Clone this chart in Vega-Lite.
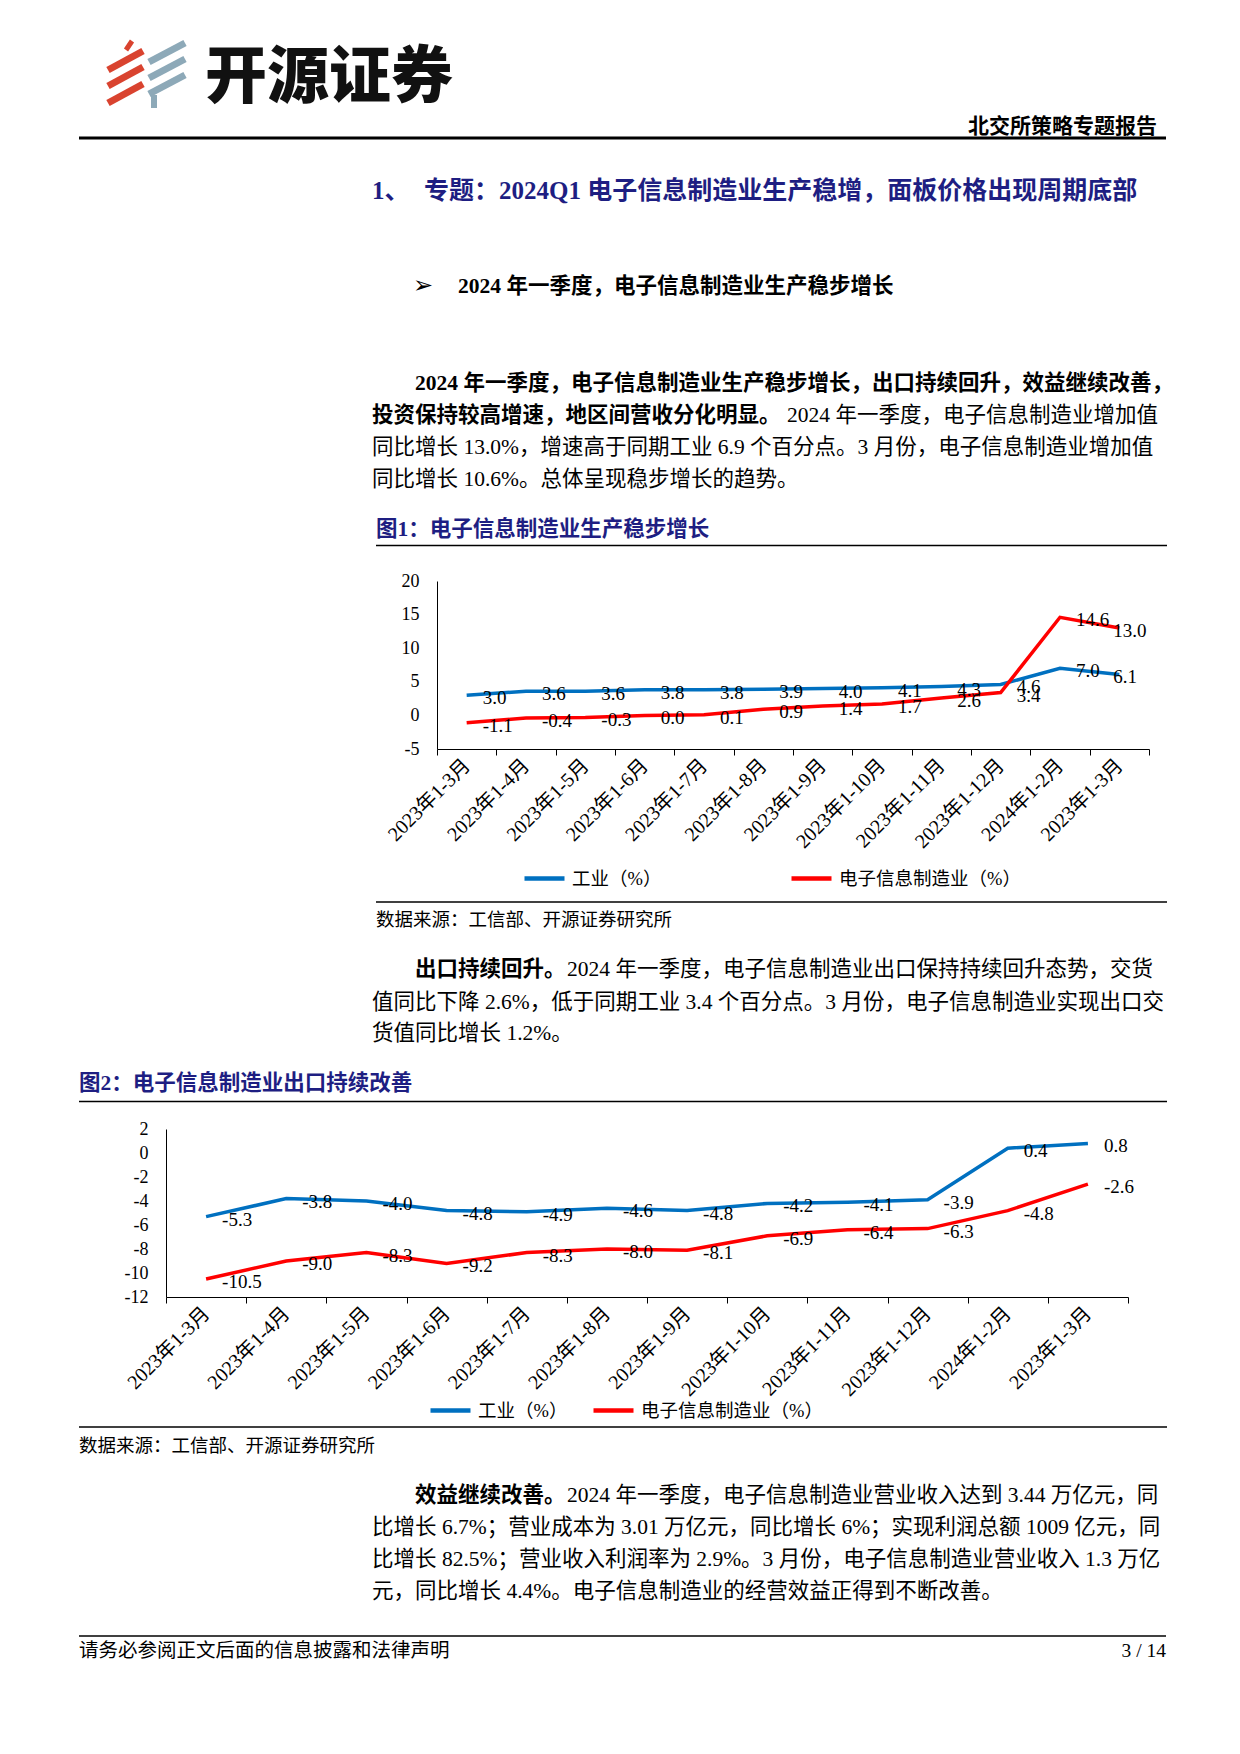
{
  "$schema": "https://vega.github.io/schema/vega-lite/v6.json",
  "padding": {"left": -7, "top": 0, "right": 0, "bottom": 0},
  "background": "white",
  "bounds": "flush",
  "spacing": 0,
  "config": {
    "view": {"stroke": null},
    "locale": {"number": {"decimal": ".", "thousands": ",", "grouping": [3], "currency": ["", ""], "minus": "-"}},
    "axis": {"labelColor": "#000000", "domainColor": "#000000", "tickColor": "#000000", "grid": false, "title": null, "labelFont": "Liberation Serif, Noto Sans CJK SC"}
  },
  "resolve": {"scale": {"color": "independent", "x": "independent", "y": "independent"}, "legend": {"color": "independent"}},
  "datasets": {
    "fig1": [
      {"月份": "2023年1-3月", "系列": "工业（%）", "值": 3.0},
      {"月份": "2023年1-4月", "系列": "工业（%）", "值": 3.6},
      {"月份": "2023年1-5月", "系列": "工业（%）", "值": 3.6},
      {"月份": "2023年1-6月", "系列": "工业（%）", "值": 3.8},
      {"月份": "2023年1-7月", "系列": "工业（%）", "值": 3.8},
      {"月份": "2023年1-8月", "系列": "工业（%）", "值": 3.9},
      {"月份": "2023年1-9月", "系列": "工业（%）", "值": 4.0},
      {"月份": "2023年1-10月", "系列": "工业（%）", "值": 4.1},
      {"月份": "2023年1-11月", "系列": "工业（%）", "值": 4.3},
      {"月份": "2023年1-12月", "系列": "工业（%）", "值": 4.6},
      {"月份": "2024年1-2月", "系列": "工业（%）", "值": 7.0},
      {"月份": "2023年1-3月\u200b", "系列": "工业（%）", "值": 6.1},
      {"月份": "2023年1-3月", "系列": "电子信息制造业（%）", "值": -1.1},
      {"月份": "2023年1-4月", "系列": "电子信息制造业（%）", "值": -0.4},
      {"月份": "2023年1-5月", "系列": "电子信息制造业（%）", "值": -0.3},
      {"月份": "2023年1-6月", "系列": "电子信息制造业（%）", "值": 0.0},
      {"月份": "2023年1-7月", "系列": "电子信息制造业（%）", "值": 0.1},
      {"月份": "2023年1-8月", "系列": "电子信息制造业（%）", "值": 0.9},
      {"月份": "2023年1-9月", "系列": "电子信息制造业（%）", "值": 1.4},
      {"月份": "2023年1-10月", "系列": "电子信息制造业（%）", "值": 1.7},
      {"月份": "2023年1-11月", "系列": "电子信息制造业（%）", "值": 2.6},
      {"月份": "2023年1-12月", "系列": "电子信息制造业（%）", "值": 3.4},
      {"月份": "2024年1-2月", "系列": "电子信息制造业（%）", "值": 14.6},
      {"月份": "2023年1-3月\u200b", "系列": "电子信息制造业（%）", "值": 13.0}
    ],
    "fig2": [
      {"月份": "2023年1-3月", "系列": "工业（%）", "值": -5.3},
      {"月份": "2023年1-4月", "系列": "工业（%）", "值": -3.8},
      {"月份": "2023年1-5月", "系列": "工业（%）", "值": -4.0},
      {"月份": "2023年1-6月", "系列": "工业（%）", "值": -4.8},
      {"月份": "2023年1-7月", "系列": "工业（%）", "值": -4.9},
      {"月份": "2023年1-8月", "系列": "工业（%）", "值": -4.6},
      {"月份": "2023年1-9月", "系列": "工业（%）", "值": -4.8},
      {"月份": "2023年1-10月", "系列": "工业（%）", "值": -4.2},
      {"月份": "2023年1-11月", "系列": "工业（%）", "值": -4.1},
      {"月份": "2023年1-12月", "系列": "工业（%）", "值": -3.9},
      {"月份": "2024年1-2月", "系列": "工业（%）", "值": 0.4},
      {"月份": "2023年1-3月\u200b", "系列": "工业（%）", "值": 0.8},
      {"月份": "2023年1-3月", "系列": "电子信息制造业（%）", "值": -10.5},
      {"月份": "2023年1-4月", "系列": "电子信息制造业（%）", "值": -9.0},
      {"月份": "2023年1-5月", "系列": "电子信息制造业（%）", "值": -8.3},
      {"月份": "2023年1-6月", "系列": "电子信息制造业（%）", "值": -9.2},
      {"月份": "2023年1-7月", "系列": "电子信息制造业（%）", "值": -8.3},
      {"月份": "2023年1-8月", "系列": "电子信息制造业（%）", "值": -8.0},
      {"月份": "2023年1-9月", "系列": "电子信息制造业（%）", "值": -8.1},
      {"月份": "2023年1-10月", "系列": "电子信息制造业（%）", "值": -6.9},
      {"月份": "2023年1-11月", "系列": "电子信息制造业（%）", "值": -6.4},
      {"月份": "2023年1-12月", "系列": "电子信息制造业（%）", "值": -6.3},
      {"月份": "2024年1-2月", "系列": "电子信息制造业（%）", "值": -4.8},
      {"月份": "2023年1-3月\u200b", "系列": "电子信息制造业（%）", "值": -2.6}
    ]
  },
  "vconcat": [
    {
      "width": 1240,
      "height": 581,
      "data": {"values": [{}]},
      "layer": [
        {"mark": {"type": "rule", "color": "#D9432F", "strokeWidth": 7}, "encoding": {"x": {"value": 107}, "y": {"value": 70}, "x2": {"value": 142}, "y2": {"value": 51}}},
        {"mark": {"type": "rule", "color": "#D9432F", "strokeWidth": 7}, "encoding": {"x": {"value": 107}, "y": {"value": 86}, "x2": {"value": 142}, "y2": {"value": 67}}},
        {"mark": {"type": "rule", "color": "#D9432F", "strokeWidth": 7}, "encoding": {"x": {"value": 107}, "y": {"value": 103}, "x2": {"value": 142}, "y2": {"value": 84}}},
        {"mark": {"type": "rule", "color": "#D9432F", "strokeWidth": 5}, "encoding": {"x": {"value": 125}, "y": {"value": 50}, "x2": {"value": 131}, "y2": {"value": 41}}},
        {"mark": {"type": "rule", "color": "#8DA9B8", "strokeWidth": 7}, "encoding": {"x": {"value": 148}, "y": {"value": 62}, "x2": {"value": 184}, "y2": {"value": 43}}},
        {"mark": {"type": "rule", "color": "#8DA9B8", "strokeWidth": 7}, "encoding": {"x": {"value": 148}, "y": {"value": 78}, "x2": {"value": 184}, "y2": {"value": 59}}},
        {"mark": {"type": "rule", "color": "#8DA9B8", "strokeWidth": 7}, "encoding": {"x": {"value": 148}, "y": {"value": 94}, "x2": {"value": 184}, "y2": {"value": 75}}},
        {"mark": {"type": "rule", "color": "#8DA9B8", "strokeWidth": 6}, "encoding": {"x": {"value": 153}, "y": {"value": 95}, "x2": {"value": 153}, "y2": {"value": 108}}},
        {"mark": {"type": "text", "text": "开源证券", "font": "Noto Sans CJK SC", "fontSize": 62, "fontWeight": 900, "color": "#111111", "align": "left", "baseline": "alphabetic"}, "encoding": {"x": {"value": 204}, "y": {"value": 98}}},
        {"mark": {"type": "text", "text": "北交所策略专题报告", "font": "Noto Sans CJK SC", "fontSize": 21, "fontWeight": "bold", "color": "#000000", "align": "right", "baseline": "alphabetic"}, "encoding": {"x": {"value": 1156}, "y": {"value": 133}}},
        {"mark": {"type": "rule", "color": "#000000", "strokeWidth": 3}, "encoding": {"x": {"value": 78}, "x2": {"value": 1165}, "y": {"value": 138}, "y2": {"value": 138}}},
        {"mark": {"type": "text", "text": "1、", "font": "Liberation Serif, Noto Sans CJK SC", "fontSize": 25, "fontWeight": "bold", "color": "#1E1E82", "align": "left", "baseline": "alphabetic"}, "encoding": {"x": {"value": 371}, "y": {"value": 199}}},
        {"mark": {"type": "text", "text": "专题：2024Q1 电子信息制造业生产稳增，面板价格出现周期底部", "font": "Liberation Serif, Noto Sans CJK SC", "fontSize": 25, "fontWeight": "bold", "color": "#1E1E82", "align": "left", "baseline": "alphabetic"}, "encoding": {"x": {"value": 423}, "y": {"value": 199}}},
        {"mark": {"type": "text", "text": "➢", "font": "DejaVu Sans", "fontSize": 24, "color": "#000000", "align": "left", "baseline": "alphabetic"}, "encoding": {"x": {"value": 412}, "y": {"value": 293}}},
        {"mark": {"type": "text", "text": "2024 年一季度，电子信息制造业生产稳步增长", "font": "Liberation Serif, Noto Sans CJK SC", "fontSize": 21.5, "fontWeight": "bold", "color": "#000000", "align": "left", "baseline": "alphabetic"}, "encoding": {"x": {"value": 457}, "y": {"value": 293}}},
        {"mark": {"type": "text", "text": "2024 年一季度，电子信息制造业生产稳步增长，出口持续回升，效益继续改善，", "font": "Liberation Serif, Noto Sans CJK SC", "fontSize": 21.5, "fontWeight": "bold", "color": "#000000", "align": "left", "baseline": "alphabetic"}, "encoding": {"x": {"value": 414}, "y": {"value": 390}}},
        {"mark": {"type": "text", "text": "投资保持较高增速，地区间营收分化明显。", "font": "Liberation Serif, Noto Sans CJK SC", "fontSize": 21.5, "fontWeight": "bold", "color": "#000000", "align": "left", "baseline": "alphabetic"}, "encoding": {"x": {"value": 371}, "y": {"value": 422}}},
        {"mark": {"type": "text", "text": "2024 年一季度，电子信息制造业增加值", "font": "Liberation Serif, Noto Sans CJK SC", "fontSize": 21.5, "color": "#000000", "align": "left", "baseline": "alphabetic"}, "encoding": {"x": {"value": 786}, "y": {"value": 422}}},
        {"mark": {"type": "text", "text": "同比增长 13.0%，增速高于同期工业 6.9 个百分点。3 月份，电子信息制造业增加值", "font": "Liberation Serif, Noto Sans CJK SC", "fontSize": 21.5, "color": "#000000", "align": "left", "baseline": "alphabetic"}, "encoding": {"x": {"value": 371}, "y": {"value": 454}}},
        {"mark": {"type": "text", "text": "同比增长 10.6%。总体呈现稳步增长的趋势。", "font": "Liberation Serif, Noto Sans CJK SC", "fontSize": 21.5, "color": "#000000", "align": "left", "baseline": "alphabetic"}, "encoding": {"x": {"value": 371}, "y": {"value": 486}}},
        {"mark": {"type": "text", "text": "图1：电子信息制造业生产稳步增长", "font": "Liberation Serif, Noto Sans CJK SC", "fontSize": 21.5, "fontWeight": "bold", "color": "#1E1E82", "align": "left", "baseline": "alphabetic"}, "encoding": {"x": {"value": 375}, "y": {"value": 536}}},
        {"mark": {"type": "rule", "color": "#000000", "strokeWidth": 1.5}, "encoding": {"x": {"value": 375}, "x2": {"value": 1166}, "y": {"value": 545.5}, "y2": {"value": 545.5}}}
      ]
    },
    {
      "width": 1240,
      "height": 168,
      "data": {"name": "fig1"},
      "encoding": {
        "x": {
          "field": "月份", "type": "ordinal", "sort": null,
          "scale": {"type": "band", "paddingInner": 0, "paddingOuter": 0, "range": [436, 1148]},
          "axis": {"labelAngle": -45, "labelAlign": "right", "labelBaseline": "middle", "labelFontSize": 20, "labelPadding": 7, "tickSize": 6, "tickBand": "extent", "labelBound": false, "labelOverlap": false, "domainWidth": 1}
        },
        "y": {
          "field": "值", "type": "quantitative",
          "scale": {"domain": [-5, 20], "nice": false, "zero": false},
          "axis": {"values": [-5, 0, 5, 10, 15, 20], "tickSize": 0, "labelPadding": 18, "labelFontSize": 18, "domainWidth": 1, "offset": -436}
        },
        "color": {
          "field": "系列", "type": "nominal",
          "scale": {"domain": ["工业（%）", "电子信息制造业（%）"], "range": ["#0070C0", "#FF0000"]},
          "legend": {"orient": "none", "legendX": 521, "legendY": 275, "direction": "horizontal", "title": null, "symbolType": "stroke", "symbolStrokeWidth": 4.5, "symbolSize": 1600, "labelFontSize": 18.5, "labelFont": "Liberation Serif, Noto Sans CJK SC", "labelColor": "#000000", "columnPadding": 120, "labelLimit": 400, "labelOffset": 5}
        }
      },
      "layer": [
        {"mark": {"type": "line", "strokeWidth": 3.5}},
        {
          "transform": [{"filter": "datum['月份'] != '2023年1-3月\u200b'"}],
          "mark": {"type": "text", "align": "left", "baseline": "middle", "dx": 16, "dy": 3, "fontSize": 19, "font": "Liberation Serif"},
          "encoding": {"text": {"field": "值", "type": "quantitative", "format": ".1f"}, "color": {"value": "#000000"}}
        },
        {
          "transform": [{"filter": "datum['月份'] == '2023年1-3月\u200b'"}],
          "mark": {"type": "text", "align": "left", "baseline": "middle", "dx": -6, "dy": 3, "fontSize": 19, "font": "Liberation Serif"},
          "encoding": {"text": {"field": "值", "type": "quantitative", "format": ".1f"}, "color": {"value": "#000000"}}
        }
      ]
    },
    {
      "width": 1240,
      "height": 380,
      "data": {"values": [{}]},
      "layer": [
        {"mark": {"type": "rule", "color": "#000000", "strokeWidth": 1.5}, "encoding": {"x": {"value": 375}, "x2": {"value": 1166}, "y": {"value": 153}, "y2": {"value": 153}}},
        {"mark": {"type": "text", "text": "数据来源：工信部、开源证券研究所", "font": "Liberation Serif, Noto Sans CJK SC", "fontSize": 18.5, "color": "#000000", "align": "left", "baseline": "alphabetic"}, "encoding": {"x": {"value": 375}, "y": {"value": 177}}},
        {"mark": {"type": "text", "text": "出口持续回升。", "font": "Liberation Serif, Noto Sans CJK SC", "fontSize": 21.5, "fontWeight": "bold", "color": "#000000", "align": "left", "baseline": "alphabetic"}, "encoding": {"x": {"value": 414}, "y": {"value": 227}}},
        {"mark": {"type": "text", "text": "2024 年一季度，电子信息制造业出口保持持续回升态势，交货", "font": "Liberation Serif, Noto Sans CJK SC", "fontSize": 21.5, "color": "#000000", "align": "left", "baseline": "alphabetic"}, "encoding": {"x": {"value": 566}, "y": {"value": 227}}},
        {"mark": {"type": "text", "text": "值同比下降 2.6%，低于同期工业 3.4 个百分点。3 月份，电子信息制造业实现出口交", "font": "Liberation Serif, Noto Sans CJK SC", "fontSize": 21.5, "color": "#000000", "align": "left", "baseline": "alphabetic"}, "encoding": {"x": {"value": 371}, "y": {"value": 260}}},
        {"mark": {"type": "text", "text": "货值同比增长 1.2%。", "font": "Liberation Serif, Noto Sans CJK SC", "fontSize": 21.5, "color": "#000000", "align": "left", "baseline": "alphabetic"}, "encoding": {"x": {"value": 371}, "y": {"value": 291}}},
        {"mark": {"type": "text", "text": "图2：电子信息制造业出口持续改善", "font": "Liberation Serif, Noto Sans CJK SC", "fontSize": 21.5, "fontWeight": "bold", "color": "#1E1E82", "align": "left", "baseline": "alphabetic"}, "encoding": {"x": {"value": 78}, "y": {"value": 341}}},
        {"mark": {"type": "rule", "color": "#000000", "strokeWidth": 1.5}, "encoding": {"x": {"value": 78}, "x2": {"value": 1166}, "y": {"value": 352.5}, "y2": {"value": 352.5}}}
      ]
    },
    {
      "width": 1240,
      "height": 168,
      "data": {"name": "fig2"},
      "encoding": {
        "x": {
          "field": "月份", "type": "ordinal", "sort": null,
          "scale": {"type": "band", "paddingInner": 0, "paddingOuter": 0, "range": [165, 1127]},
          "axis": {"labelAngle": -45, "labelAlign": "right", "labelBaseline": "middle", "labelFontSize": 20, "labelPadding": 7, "tickSize": 6, "tickBand": "extent", "labelBound": false, "labelOverlap": false, "domainWidth": 1}
        },
        "y": {
          "field": "值", "type": "quantitative",
          "scale": {"domain": [-12, 2], "nice": false, "zero": false},
          "axis": {"values": [-12, -10, -8, -6, -4, -2, 0, 2], "tickSize": 0, "labelPadding": 18, "labelFontSize": 18, "domainWidth": 1, "offset": -165}
        },
        "color": {
          "field": "系列", "type": "nominal",
          "scale": {"domain": ["工业（%）", "电子信息制造业（%）"], "range": ["#0070C0", "#FF0000"]},
          "legend": {"orient": "none", "legendX": 427, "legendY": 259, "direction": "horizontal", "title": null, "symbolType": "stroke", "symbolStrokeWidth": 4.5, "symbolSize": 1600, "labelFontSize": 18.5, "labelFont": "Liberation Serif, Noto Sans CJK SC", "labelColor": "#000000", "columnPadding": 16, "labelLimit": 400, "labelOffset": 5}
        }
      },
      "layer": [
        {"mark": {"type": "line", "strokeWidth": 3.5}},
        {
          "mark": {"type": "text", "align": "left", "baseline": "middle", "dx": 16, "dy": 3, "fontSize": 19, "font": "Liberation Serif"},
          "encoding": {"text": {"field": "值", "type": "quantitative", "format": ".1f"}, "color": {"value": "#000000"}}
        }
      ]
    },
    {
      "width": 1240,
      "height": 457,
      "data": {"values": [{}]},
      "layer": [
        {"mark": {"type": "rule", "color": "#000000", "strokeWidth": 1.5}, "encoding": {"x": {"value": 78}, "x2": {"value": 1166}, "y": {"value": 130}, "y2": {"value": 130}}},
        {"mark": {"type": "text", "text": "数据来源：工信部、开源证券研究所", "font": "Liberation Serif, Noto Sans CJK SC", "fontSize": 18.5, "color": "#000000", "align": "left", "baseline": "alphabetic"}, "encoding": {"x": {"value": 78}, "y": {"value": 155}}},
        {"mark": {"type": "text", "text": "效益继续改善。", "font": "Liberation Serif, Noto Sans CJK SC", "fontSize": 21.5, "fontWeight": "bold", "color": "#000000", "align": "left", "baseline": "alphabetic"}, "encoding": {"x": {"value": 414}, "y": {"value": 205}}},
        {"mark": {"type": "text", "text": "2024 年一季度，电子信息制造业营业收入达到 3.44 万亿元，同", "font": "Liberation Serif, Noto Sans CJK SC", "fontSize": 21.5, "color": "#000000", "align": "left", "baseline": "alphabetic"}, "encoding": {"x": {"value": 566}, "y": {"value": 205}}},
        {"mark": {"type": "text", "text": "比增长 6.7%；营业成本为 3.01 万亿元，同比增长 6%；实现利润总额 1009 亿元，同", "font": "Liberation Serif, Noto Sans CJK SC", "fontSize": 21.5, "color": "#000000", "align": "left", "baseline": "alphabetic"}, "encoding": {"x": {"value": 371}, "y": {"value": 237}}},
        {"mark": {"type": "text", "text": "比增长 82.5%；营业收入利润率为 2.9%。3 月份，电子信息制造业营业收入 1.3 万亿", "font": "Liberation Serif, Noto Sans CJK SC", "fontSize": 21.5, "color": "#000000", "align": "left", "baseline": "alphabetic"}, "encoding": {"x": {"value": 371}, "y": {"value": 269}}},
        {"mark": {"type": "text", "text": "元，同比增长 4.4%。电子信息制造业的经营效益正得到不断改善。", "font": "Liberation Serif, Noto Sans CJK SC", "fontSize": 21.5, "color": "#000000", "align": "left", "baseline": "alphabetic"}, "encoding": {"x": {"value": 371}, "y": {"value": 301}}},
        {"mark": {"type": "rule", "color": "#000000", "strokeWidth": 1.5}, "encoding": {"x": {"value": 78}, "x2": {"value": 1165}, "y": {"value": 339}, "y2": {"value": 339}}},
        {"mark": {"type": "text", "text": "请务必参阅正文后面的信息披露和法律声明", "font": "Liberation Serif, Noto Sans CJK SC", "fontSize": 19.5, "color": "#000000", "align": "left", "baseline": "alphabetic"}, "encoding": {"x": {"value": 78}, "y": {"value": 360}}},
        {"mark": {"type": "text", "text": "3 / 14", "font": "Liberation Serif", "fontSize": 19.5, "color": "#000000", "align": "right", "baseline": "alphabetic"}, "encoding": {"x": {"value": 1165}, "y": {"value": 360}}}
      ]
    }
  ]
}
